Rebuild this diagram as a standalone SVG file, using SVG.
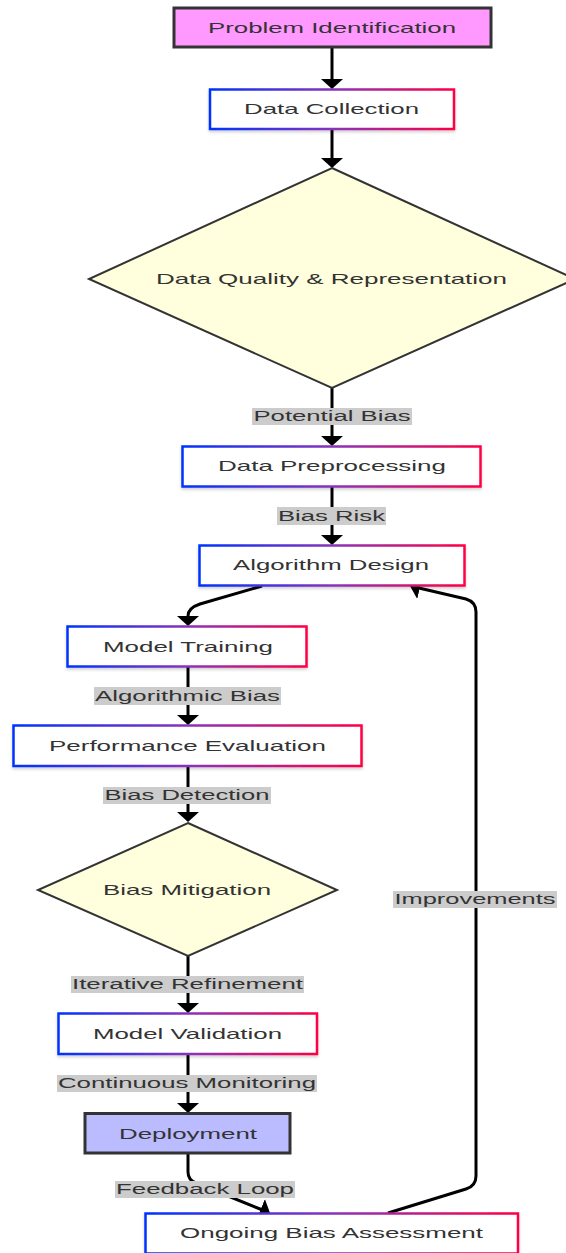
<svg xmlns="http://www.w3.org/2000/svg" width="566" height="1253" viewBox="0 0 566 1253">
<defs>
<linearGradient id="grad" x1="0" y1="0" x2="1" y2="0">
<stop offset="0" stop-color="#0033ff"/>
<stop offset="0.5" stop-color="#8833bb"/>
<stop offset="1" stop-color="#ff0044"/>
</linearGradient>
<filter id="sh" x="-10%" y="-20%" width="120%" height="150%">
<feDropShadow dx="0" dy="2" stdDeviation="1.5" flood-color="#000" flood-opacity="0.18"/>
</filter>
<marker id="arr" viewBox="0 0 10 22" refX="2" refY="11" markerWidth="10" markerHeight="22" markerUnits="userSpaceOnUse" orient="auto">
<path d="M0,0 L10,11 L0,22 z" fill="#000"/>
</marker>
</defs>
<style>
.t{font-family:"Liberation Sans",Arial,sans-serif;font-size:15px;fill:#333;text-anchor:middle}
.lt{font-family:"Liberation Sans",Arial,sans-serif;font-size:14px;fill:#333;text-anchor:middle}
.g{fill:#fff;stroke:url(#grad);stroke-width:2.5;filter:url(#sh)}
.d{fill:#ffffdd;stroke:#333;stroke-width:2}
.e{fill:none;stroke:#000;stroke-width:3;marker-end:url(#arr)}
.lb{fill:#cccccc}
</style>
<rect width="566" height="1253" fill="#fff"/>

<g id="edges">
<path class="e" d="M332,48 L332,81"/>
<path class="e" d="M332,129 L332,160"/>
<path class="e" d="M332,388 L332,438"/>
<path class="e" d="M332,487 L332,537"/>
<path class="e" d="M262,586 L200,604 Q188,608 188,616 L188,618"/>
<path class="e" d="M188,667 L188,717"/>
<path class="e" d="M188,766 L188,814"/>
<path class="e" d="M188,956 L188,1005"/>
<path class="e" d="M188,1054 L188,1105"/>
<path class="e" d="M188,1153 L188,1172 Q188,1180 196,1183 L262.6,1210"/>
<path class="e" d="M388,1213 L466,1189 Q476,1186 476,1176 L476,612 Q476,602 466,599 L417.8,587.8"/>
</g>

<g id="edge-labels">
<rect class="lb" x="252" y="408" width="160" height="17"/>
<text class="lt" x="332" y="416.5" dy="0.35em" textLength="157" lengthAdjust="spacingAndGlyphs">Potential Bias</text>
<rect class="lb" x="277" y="507" width="109" height="18"/>
<text class="lt" x="331.5" y="516" dy="0.35em" textLength="107" lengthAdjust="spacingAndGlyphs">Bias Risk</text>
<rect class="lb" x="94" y="687" width="187" height="18"/>
<text class="lt" x="187.5" y="696" dy="0.35em" textLength="185" lengthAdjust="spacingAndGlyphs">Algorithmic Bias</text>
<rect class="lb" x="103" y="787" width="168" height="17"/>
<text class="lt" x="187" y="795.5" dy="0.35em" textLength="165" lengthAdjust="spacingAndGlyphs">Bias Detection</text>
<rect class="lb" x="71" y="976" width="233" height="17"/>
<text class="lt" x="187.5" y="984.5" dy="0.35em" textLength="231" lengthAdjust="spacingAndGlyphs">Iterative Refinement</text>
<rect class="lb" x="57" y="1075" width="260" height="17"/>
<text class="lt" x="187" y="1083.5" dy="0.35em" textLength="258" lengthAdjust="spacingAndGlyphs">Continuous Monitoring</text>
<rect class="lb" x="115" y="1181" width="180" height="17"/>
<text class="lt" x="205" y="1189.5" dy="0.35em" textLength="178" lengthAdjust="spacingAndGlyphs">Feedback Loop</text>
<rect class="lb" x="393" y="891" width="164" height="17"/>
<text class="lt" x="475" y="899.5" dy="0.35em" textLength="161" lengthAdjust="spacingAndGlyphs">Improvements</text>
</g>

<g id="problem-identification">
<rect x="174" y="8" width="317" height="39" fill="#ff99ff" stroke="#333" stroke-width="3"/>
<text class="t" x="332" y="27.5" dy="0.35em" textLength="248" lengthAdjust="spacingAndGlyphs">Problem Identification</text>
</g>
<g id="data-collection">
<rect class="g" x="210" y="89.5" width="244" height="39.5"/>
<text class="t" x="331.5" y="109" dy="0.35em" textLength="175" lengthAdjust="spacingAndGlyphs">Data Collection</text>
</g>
<g id="data-quality">
<polygon class="d" points="332,168 575,279 332,388 89,279"/>
<text class="t" x="331.5" y="279" dy="0.35em" textLength="351" lengthAdjust="spacingAndGlyphs">Data Quality &amp; Representation</text>
</g>
<g id="data-preprocessing">
<rect class="g" x="182.5" y="446.5" width="298" height="40"/>
<text class="t" x="332" y="466" dy="0.35em" textLength="228" lengthAdjust="spacingAndGlyphs">Data Preprocessing</text>
</g>
<g id="algorithm-design">
<rect class="g" x="199.5" y="545.5" width="265" height="40"/>
<text class="t" x="331" y="565" dy="0.35em" textLength="196" lengthAdjust="spacingAndGlyphs">Algorithm Design</text>
</g>
<g id="model-training">
<rect class="g" x="67.5" y="626.5" width="239" height="40"/>
<text class="t" x="188" y="646.5" dy="0.35em" textLength="170" lengthAdjust="spacingAndGlyphs">Model Training</text>
</g>
<g id="performance-evaluation">
<rect class="g" x="13.5" y="725.5" width="348" height="40.5"/>
<text class="t" x="187.5" y="746" dy="0.35em" textLength="277" lengthAdjust="spacingAndGlyphs">Performance Evaluation</text>
</g>
<g id="bias-mitigation">
<polygon class="d" points="188,823 337,890 188,956 38,890"/>
<text class="t" x="187" y="890" dy="0.35em" textLength="168" lengthAdjust="spacingAndGlyphs">Bias Mitigation</text>
</g>
<g id="model-validation">
<rect class="g" x="58.5" y="1013.5" width="258.5" height="40.5"/>
<text class="t" x="187.5" y="1033.5" dy="0.35em" textLength="189" lengthAdjust="spacingAndGlyphs">Model Validation</text>
</g>
<g id="deployment">
<rect x="85" y="1113.5" width="205" height="39.5" fill="#bbbbff" stroke="#333" stroke-width="3"/>
<text class="t" x="188" y="1133.5" dy="0.35em" textLength="138" lengthAdjust="spacingAndGlyphs">Deployment</text>
</g>
<g id="ongoing-bias-assessment">
<rect class="g" x="145.5" y="1213.5" width="372.5" height="40"/>
<text class="t" x="331.5" y="1233" dy="0.35em" textLength="303" lengthAdjust="spacingAndGlyphs">Ongoing Bias Assessment</text>
</g>
</svg>
